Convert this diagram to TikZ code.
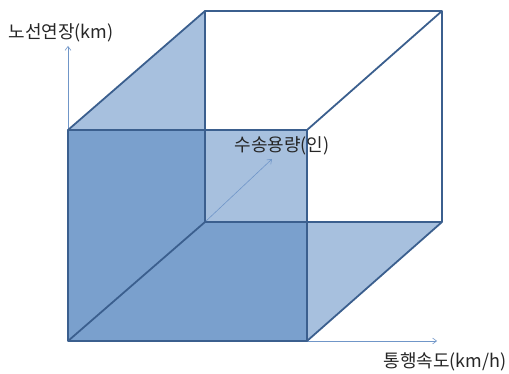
\documentclass[tikz,border=0pt]{standalone}
\usepackage{fontspec}
\newfontfamily\krfont{Noto Sans CJK KR}
\usepackage{xcolor}
\definecolor{cubeblue}{HTML}{4F81BD}
\definecolor{cubeline}{HTML}{3B5F8E}
\definecolor{axisblue}{HTML}{7096C8}
\usetikzlibrary{arrows.meta,positioning,calc}
\tikzset{
  cubeface/.style={fill=cubeblue,fill opacity=0.5},
  cubeedge/.style={draw=cubeline,line width=1.8pt,line join=round},
  cubeaxis/.style={-{Straight Barb[length=4pt,width=6pt]},draw=axisblue,line width=0.6pt},
  cubelabel/.style={font=\krfont\fontsize{18}{20}\selectfont,inner sep=0pt,text=black!85},
}

\begin{document}
\begin{tikzpicture}[x=1pt,y=-1pt]
\useasboundingbox (0,0) rectangle (509,374);
% corners of the cube
\coordinate (f1) at (68,130);
\coordinate (f2) at (307,130);
\coordinate (f3) at (307,341);
\coordinate (f4) at (68,341);
\coordinate (b1) at (205,11);
\coordinate (b2) at (442,11);
\coordinate (b3) at (442,222);
\coordinate (b4) at (205,222);
% shaded faces
\fill[cubeface](f1)--(f2)--(f3)--(f4)--cycle;
\fill[cubeface](f1)--(b1)--(b4)--(f4)--cycle;
\fill[cubeface](f4)--(f3)--(b3)--(b4)--cycle;
% axes
\coordinate (ytip) at (68,46);
\coordinate (xtip) at (437,341);
\coordinate (ztip) at (272,159);
\draw[cubeaxis](f1)--(ytip);
\draw[cubeaxis](f3)--(xtip);
\draw[cubeaxis](b4)--(ztip);
% edges
\draw[cubeedge](b1)--(b2)--(b3)--(b4)--cycle;
\draw[cubeedge](f1)--(f2)--(f3)--(f4)--cycle;
\draw[cubeedge](f1)--(b1) (f2)--(b2) (f3)--(b3) (f4)--(b4);
% labels
\node[cubelabel](ylab) at (61,33){노선연장(km)};
\node[cubelabel](zlab) at (282,146){수송용량(인)};
\node[cubelabel](xlab) at (445,362){통행속도(km/h)};
\end{tikzpicture}
\end{document}
